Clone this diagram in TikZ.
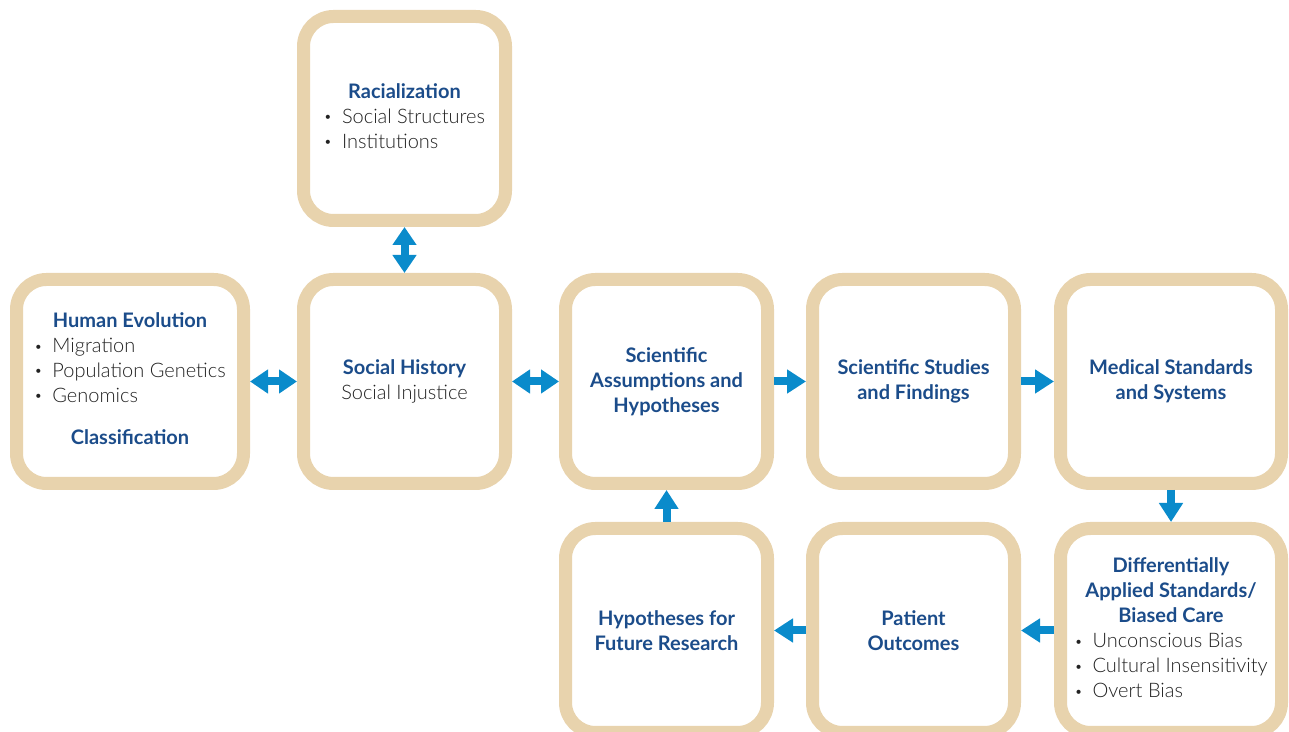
\documentclass[tikz,border=0pt]{standalone}
\usepackage{fontspec}
\setmainfont{Lato}[UprightFont={Lato Light}, BoldFont={Lato Bold}]
\usepackage{tikz}
\usetikzlibrary{positioning,arrows.meta}
\definecolor{cardtan}{HTML}{E8D3AD}
\definecolor{flowblue}{HTML}{0A8BCB}
\definecolor{headblue}{HTML}{1B4C8A}
\definecolor{bodygray}{HTML}{222222}
\newcommand{\cardhead}[1]{{\bfseries\color{headblue}#1}}
\newcommand{\dotitem}{\raisebox{0.2ex}{\fontsize{7}{7}\selectfont\textbullet}\hspace{5pt}}
\newcommand{\midline}[1]{\multicolumn{1}{@{}c@{}}{#1}}

\begin{document}
\begin{tikzpicture}[x=0.5pt,y=0.5pt,
    card/.style={draw=cardtan, line width=6.5pt, fill=white, rounded corners=15pt,
      minimum width=101pt, minimum height=102pt, align=center, text=bodygray,
      font=\fontsize{10}{12.5}\selectfont, inner sep=0pt},
    wide/.style={minimum width=113.5pt},
    flow/.style={draw=flowblue, line width=4pt, -{Triangle[length=9.5pt,width=11.5pt]}},
    twoway/.style={draw=flowblue, line width=4pt,
      {Triangle[length=9pt,width=11.5pt]}-{Triangle[length=9pt,width=11.5pt]}}]
    \clip (0,0) rectangle (1289,732);

    % top row
    \node[card] (racial) at (404.5,613.5) {\begin{tabular}{@{}l@{}}
        \midline{\cardhead{Racialization}}\\
        \dotitem Social Structures\\
        \dotitem Institutions
      \end{tabular}};

    % middle row
    \node[card, wide] (humanevo) at (130,350.5) {\begin{tabular}{@{}l@{}}
        \midline{\cardhead{Human Evolution}}\\
        \dotitem Migration\\
        \dotitem Population Genetics\\
        \dotitem Genomics\\[8.5pt]
        \midline{\cardhead{Classification}}
      \end{tabular}};
    \node[card] (social) at (404.5,350.5) {\cardhead{Social History}\\ Social Injustice};
    \node[card] (sciassume) at (666.5,350.5) {\cardhead{Scientific}\\ \cardhead{Assumptions and}\\ \cardhead{Hypotheses}};
    \node[card] (scistudy) at (913.5,350.5) {\cardhead{Scientific Studies}\\ \cardhead{and Findings}};
    \node[card, minimum width=110.5pt] (medical) at (1171,350.5) {\cardhead{Medical Standards}\\ \cardhead{and Systems}};

    % bottom row
    \node[card, minimum width=110.5pt] (biased) at (1171,101.5) {\begin{tabular}{@{}l@{}}
        \midline{\cardhead{Differentially}}\\
        \midline{\cardhead{Applied Standards/}}\\
        \midline{\cardhead{Biased Care}}\\
        \dotitem Unconscious Bias\\
        \dotitem Cultural Insensitivity\\
        \dotitem Overt Bias
      \end{tabular}};
    \node[card] (outcome) at (913.5,101.5) {\cardhead{Patient}\\ \cardhead{Outcomes}};
    \node[card] (futurehyp) at (666.5,101.5) {\cardhead{Hypotheses for}\\ \cardhead{Future Research}};

    % connectors
    \draw[twoway] (humanevo) -- (social);
    \draw[twoway] (racial) -- (social);
    \draw[twoway] (social) -- (sciassume);
    \draw[flow] (sciassume) -- (scistudy);
    \draw[flow] (scistudy) -- (medical);
    \draw[flow] (medical) -- (biased);
    \draw[flow] (biased) -- (outcome);
    \draw[flow] (outcome) -- (futurehyp);
    \draw[flow] (futurehyp) -- (sciassume);
\end{tikzpicture}
\end{document}
